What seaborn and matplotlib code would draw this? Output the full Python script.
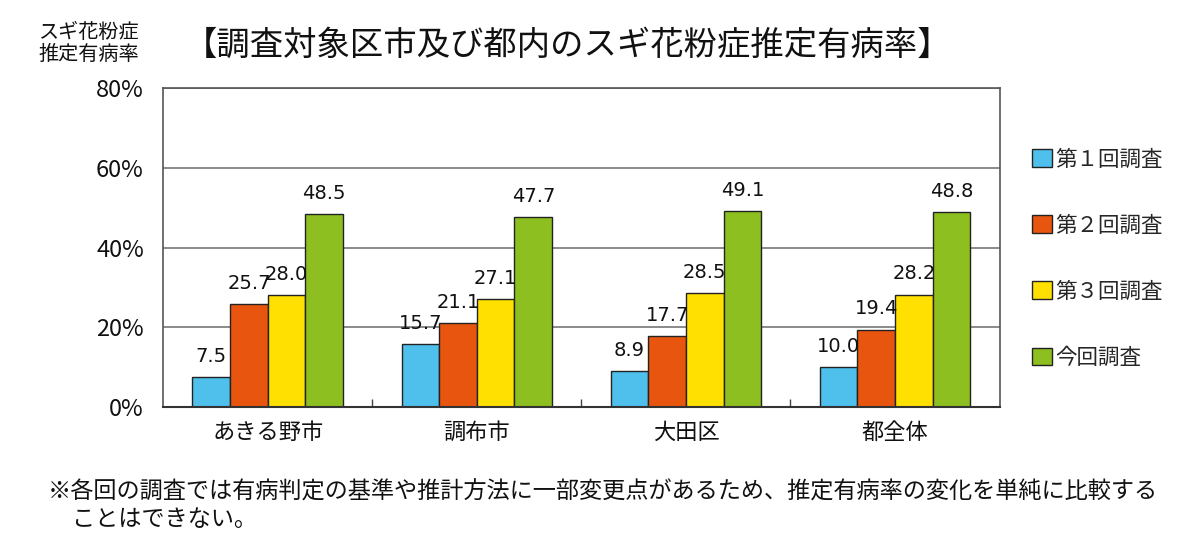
import matplotlib
matplotlib.use("Agg")
import matplotlib.pyplot as plt
import seaborn as sns
import pandas as pd
import numpy as np

regions = ["あきる野市", "調布市", "大田区", "都全体"]
surveys = ["第１回調査", "第２回調査", "第３回調査", "今回調査"]
survey1 = [7.5, 15.7, 8.9, 10.0]
survey2 = [25.7, 21.1, 17.7, 19.4]
survey3 = [28.0, 27.1, 28.5, 28.2]
survey_now = [48.5, 47.7, 49.1, 48.8]
colors = ["#4FBFEC", "#E8550E", "#FFE000", "#8CBF1F"]
yticks = [0, 20, 40, 60, 80]

sns.set_theme(style="white")
plt.rcParams['font.family'] = ['Noto Sans CJK JP', 'DejaVu Sans']

rows = []
for s, vals in zip(surveys, [survey1, survey2, survey3, survey_now]):
    for r, v in zip(regions, vals):
        rows.append({"region": r, "survey": s, "value": v})
df = pd.DataFrame(rows)

fig = plt.figure(figsize=(12, 5.34), dpi=100)
ax = fig.add_axes([0.136, 0.238, 0.697, 0.597])

sns.barplot(data=df, x="region", y="value", hue="survey", hue_order=surveys,
            order=regions, palette=colors, saturation=1, edgecolor="#222222",
            linewidth=1.0, width=0.72, gap=0, ax=ax, legend=True)

for cont in ax.containers:
    ax.bar_label(cont, fmt="%.1f", padding=8, fontsize=14, color="#111111",
                 family=['DejaVu Sans'])

ax.set_ylim(0, 80)
ax.set_xlim(-0.5, 3.5)
ax.set_yticks(yticks)
ax.set_yticklabels([f"{t}%" for t in yticks], fontsize=17, color="#111111")
ax.tick_params(axis="y", length=0, pad=14)
ax.tick_params(axis="x", length=0, pad=10, labelsize=16, labelcolor="#111111")
ax.set_xticks(np.arange(len(regions)))
ax.set_xticks([0.5, 1.5, 2.5], minor=True)
ax.tick_params(axis="x", which="minor", direction="in", length=6, width=1, color="#444444", bottom=True)
ax.set_xlabel("")
ax.set_ylabel("")
ax.yaxis.grid(True, color="#777777", linewidth=1.2)
ax.set_axisbelow(True)
for sp in ax.spines.values():
    sp.set_color("#555555")
    sp.set_linewidth(1.2)
ax.spines["bottom"].set_color("#333333")
ax.spines["bottom"].set_linewidth(1.5)

handles, labels = ax.get_legend_handles_labels()
ax.get_legend().remove()
fig.legend(handles, labels, loc="upper left", bbox_to_anchor=(0.853, 0.738),
           frameon=False, fontsize=15.5, handlelength=0.9, handleheight=0.9,
           handletextpad=0.15, labelspacing=2.05, borderaxespad=0)

fig.text(0.473, 0.915, "【調査対象区市及び都内のスギ花粉症推定有病率】",
         ha="center", va="center", fontsize=24, color="#111111")
fig.text(0.074, 0.918, "スギ花粉症\n推定有病率", ha="center", va="center",
         fontsize=14.5, color="#111111", linespacing=1.05)
fig.text(0.04, 0.078, "※各回の調査では有病判定の基準や推計方法に一部変更点があるため、推定有病率の変化を単純に比較する",
         ha="left", va="center", fontsize=16.7, color="#111111")
fig.text(0.06, 0.027, "ことはできない。", ha="left", va="center", fontsize=16.7, color="#111111")

fig.savefig("out.png", dpi=100)
